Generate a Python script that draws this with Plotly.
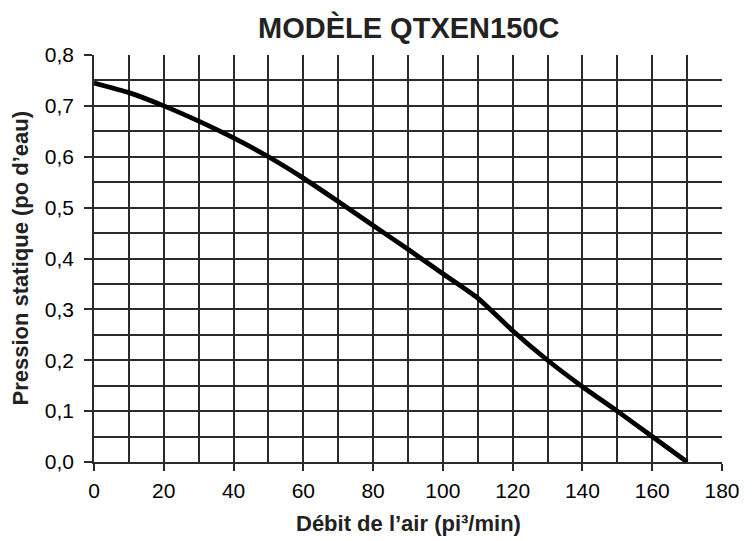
import plotly.graph_objects as go

airflow = [0, 10, 20, 30, 40, 50, 60, 70, 80, 90, 100, 110, 120, 130, 140, 150, 160, 170]
pressure = [0.745, 0.726, 0.700, 0.670, 0.637, 0.600, 0.558, 0.512, 0.465, 0.418, 0.370, 0.322, 0.258, 0.200, 0.148, 0.100, 0.050, 0.0]

title_text = "MODÈLE QTXEN150C"
x_title = "Débit de l’air (pi³/min)"
y_title = "Pression statique (po d’eau)"

fig = go.Figure()
fig.add_trace(go.Scatter(x=airflow, y=pressure, mode="lines",
                         line=dict(color="black", width=4.8, shape="spline", smoothing=0.6),
                         showlegend=False, hoverinfo="skip"))

grid_color = "#2a2a2a"
fig.update_layout(
    width=752, height=541,
    margin=dict(l=94, r=30, t=55, b=79, autoexpand=False),
    paper_bgcolor="white", plot_bgcolor="white",
    separators=",.",
    font=dict(family="Liberation Sans, Arial, sans-serif", color="black", size=21),
    xaxis=dict(range=[0, 180], dtick=20, tick0=0, showgrid=True, gridcolor=grid_color, gridwidth=1.5,
               ticks="outside", ticklen=7, tickwidth=1.5, tickcolor=grid_color,
               showline=True, linecolor=grid_color, linewidth=1.5, zeroline=False,
               minor=dict(dtick=10, showgrid=True, gridcolor=grid_color, gridwidth=1.5, ticks=""),
               automargin=False, tickfont=dict(size=21), ticklabelstandoff=2),
    yaxis=dict(range=[0, 0.8], dtick=0.1, tick0=0, tickformat=".1f", showgrid=True,
               gridcolor=grid_color, gridwidth=1.5,
               ticks="outside", ticklen=8, tickwidth=1.5, tickcolor=grid_color,
               showline=True, linecolor=grid_color, linewidth=1.5, zeroline=False,
               minor=dict(dtick=0.05, showgrid=True, gridcolor=grid_color, gridwidth=1.5, ticks=""),
               automargin=False, tickfont=dict(size=21), ticklabelstandoff=6),
    annotations=[
        dict(text="<b>" + title_text + "</b>", x=0.5, xref="paper", y=1, yref="paper",
             xanchor="center", yanchor="middle", yshift=28, showarrow=False,
             font=dict(size=29, color="#222")),
        dict(text="<b>" + x_title + "</b>", x=0.5, xref="paper", y=0, yref="paper",
             xanchor="center", yanchor="middle", yshift=-61, showarrow=False,
             font=dict(size=22, color="#222")),
        dict(text="<b>" + y_title + "</b>", x=0, xref="paper", y=0.5, yref="paper",
             xanchor="center", yanchor="middle", xshift=-74, textangle=-90, showarrow=False,
             font=dict(size=22, color="#222")),
    ],
)

fig.write_html("out.html",
               config={"displayModeBar": False},
               post_script="document.body.style.margin='0';"
                           "document.documentElement.style.overflow='hidden';"
                           "document.body.style.overflow='hidden';")
